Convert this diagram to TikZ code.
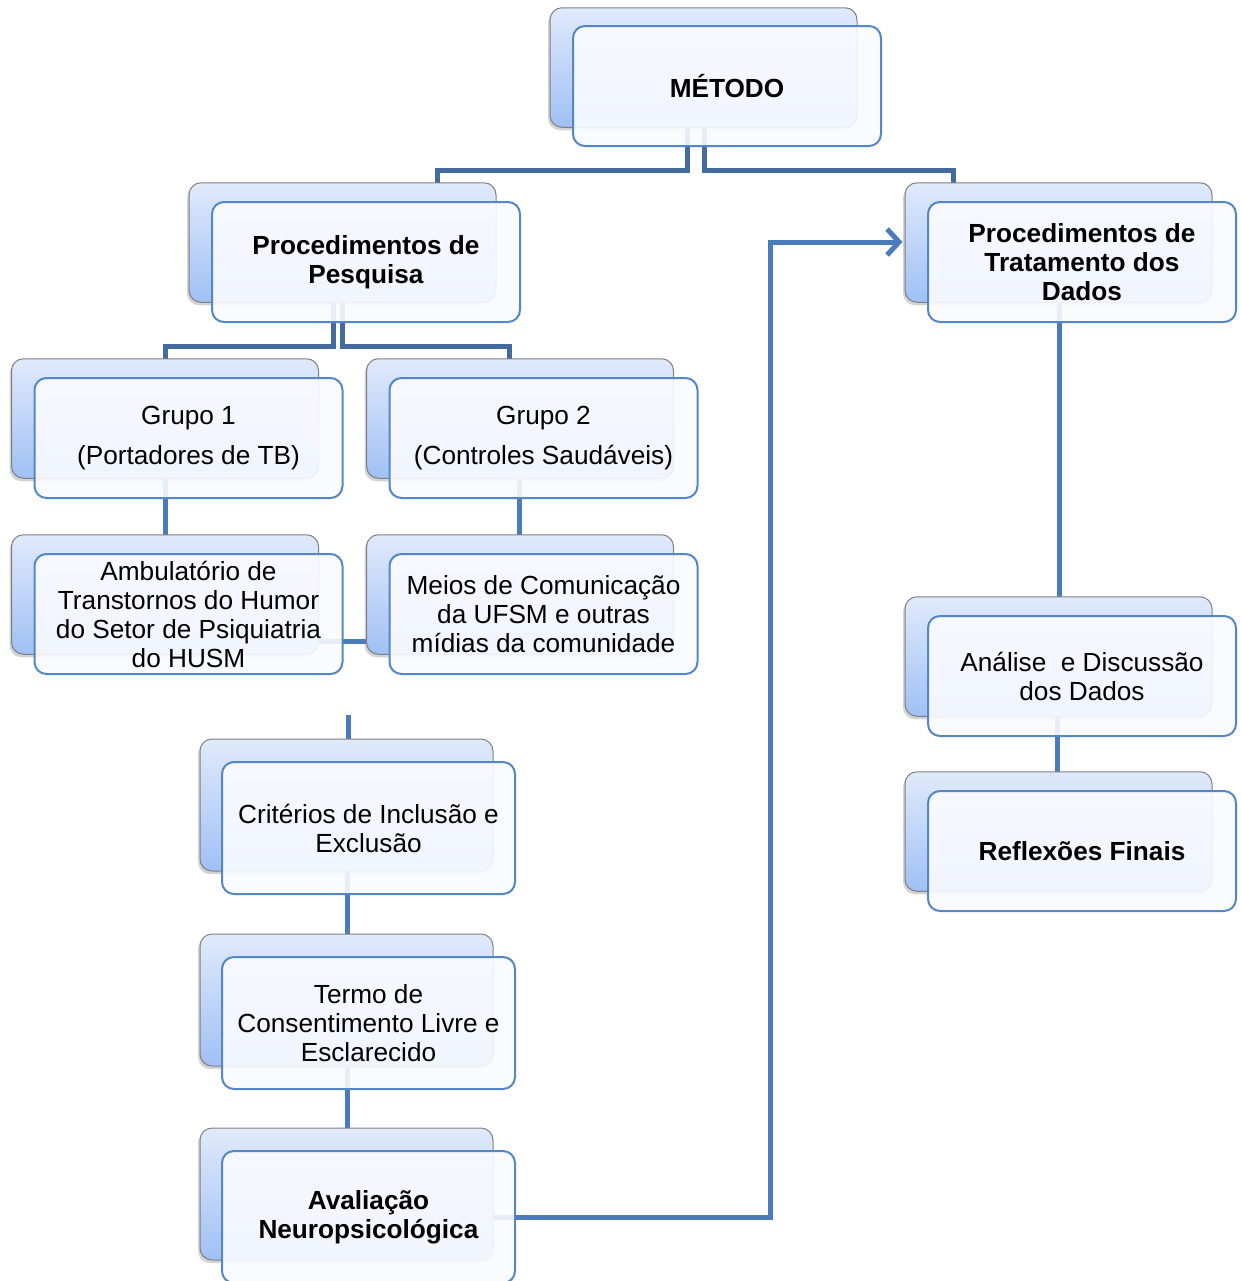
\documentclass[tikz,border=0pt]{standalone}
\usepackage{fontspec}
\setmainfont{Liberation Sans}
\usetikzlibrary{shadows,arrows.meta,calc}
\definecolor{backtop}{RGB}{224,234,251}
\definecolor{backbot}{RGB}{160,192,245}
\definecolor{backline}{RGB}{128,128,128}
\definecolor{frontline}{RGB}{85,135,198}
\definecolor{frontfill}{RGB}{250,251,255}
\definecolor{connA}{RGB}{68,106,158}
\definecolor{connB}{RGB}{74,124,188}
\pgfdeclarelayer{bg}
\pgfsetlayers{bg,main}
\newcommand\dbox[5]{%
  \node[backbox,#1] (#2-b) at ($(#3)+(#4)$) {};
  \node[frontbox,#1] (#2) at (#3) {#5};}
\begin{document}
\begin{tikzpicture}[x=0.5pt,y=-0.5pt,
  backbox/.style={rounded corners=6pt, draw=backline, line width=0.5pt,
    top color=backtop, bottom color=backbot,
    drop shadow={shadow xshift=-1pt,shadow yshift=-1.5pt,opacity=0.35},
    minimum width=153.5pt, minimum height=59.75pt, inner sep=0pt},
  frontbox/.style={rounded corners=6pt, draw=frontline, line width=1pt,
    fill=frontfill, fill opacity=0.9, text opacity=1,
    minimum width=154pt, minimum height=60pt, inner sep=0pt, align=center,
    font=\fontsize{13.1pt}{14.5pt}\selectfont},
  small/.style={minimum width=146.5pt, minimum height=66pt},
  conn/.style={line width=2.5pt, draw=connB},
  connd/.style={line width=2.5pt, draw=connA},
  arr/.style={conn, -{Straight Barb[length=6pt,width=13pt]}}
  ]
\useasboundingbox (0,0) rectangle (1241,1281);

\dbox{}{metodo}{727,86}{-23.5,-18.5}{\textbf{MÉTODO}}
\dbox{}{pesq}{366,262}{-23.5,-19.5}{\textbf{Procedimentos de}\\\textbf{Pesquisa}}
\dbox{}{trat}{1082,262}{-23.5,-19.5}{\textbf{Procedimentos de}\\\textbf{Tratamento dos}\\\textbf{Dados}}
\dbox{}{g1}{188.5,438}{-23.5,-19.5}{Grupo 1\\[5.5pt](Portadores de TB)}
\dbox{}{g2}{543.5,438}{-23.5,-19.5}{Grupo 2\\[5.5pt](Controles Saudáveis)}
\dbox{}{amb}{188.5,614}{-23.5,-19.5}{Ambulatório de\\Transtornos do Humor\\do Setor de Psiquiatria\\do HUSM}
\dbox{}{meios}{543.5,614}{-23.5,-19.5}{Meios de Comunicação\\da UFSM e outras\\mídias da comunidade}
\dbox{small}{crit}{368.5,828}{-22,-23}{Critérios de Inclusão e\\Exclusão}
\dbox{small}{termo}{368.5,1023}{-22,-23}{Termo de\\Consentimento Livre e\\Esclarecido}
\dbox{small}{aval}{368.5,1217}{-22,-23}{\textbf{Avaliação}\\\textbf{Neuropsicológica}}
\dbox{}{anal}{1082,676}{-23.5,-19.5}{Análise~ e Discussão\\dos Dados}
\dbox{}{refl}{1082,851}{-23.5,-19.5}{\textbf{Reflexões Finais}}

\coordinate (stub) at (348,715);

\begin{pgfonlayer}{bg}
\draw[connd] (687,0 |- metodo.center) -- (687,170) -- (437,170) -- (437,0 |- pesq-b.center);
\draw[connd] (704,0 |- metodo.center) -- (704,170) -- (953,170) -- (953,0 |- trat-b.center);
\draw[connd] (333,0 |- pesq.center) -- (333,346) -- (165,346) -- (165,0 |- g1-b.center);
\draw[connd] (342,0 |- pesq.center) -- (342,346) -- (509,346) -- (509,0 |- g2-b.center);
\draw[conn] (165,0 |- g1.center) -- (165,0 |- amb-b.center);
\draw[conn] (519,0 |- g2.center) -- (519,0 |- meios-b.center);
\draw[conn] (amb.center |- 0,641) -- (meios-b.center |- 0,641);
\draw[conn] (stub) -- (348,0 |- crit-b.center);
\draw[conn] (347,0 |- crit.center) -- (347,0 |- termo-b.center);
\draw[conn] (347,0 |- termo.center) -- (347,0 |- aval-b.center);
\draw[conn] (1059,0 |- trat.center) -- (1059,0 |- anal-b.center);
\draw[conn] (1057,0 |- anal.center) -- (1057,0 |- refl-b.center);
\draw[arr] (aval.center) -| (770,242) -- ([xshift=-1pt]trat-b.west |- 0,242);
\end{pgfonlayer}
\end{tikzpicture}
\end{document}
